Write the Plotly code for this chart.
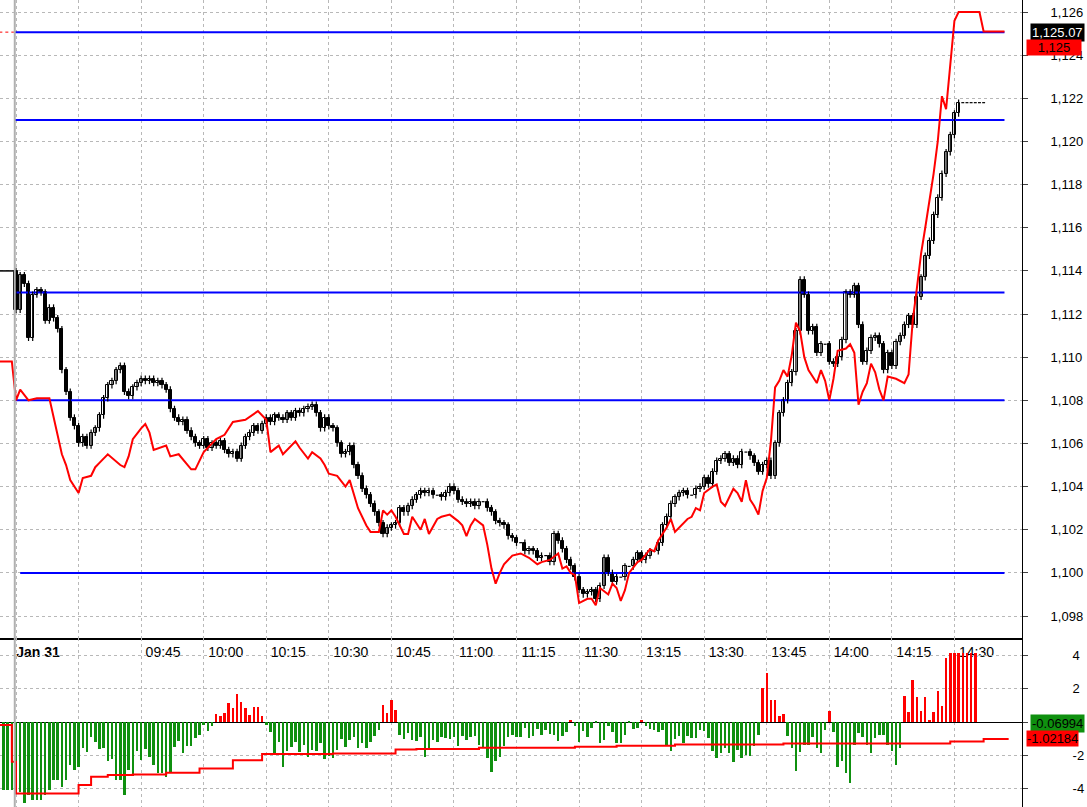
import plotly.graph_objects as go
from plotly.subplots import make_subplots

# 1-minute closes, Jan 31 session starting 09:15 (bar 0); previous day closed at 1114
prev_close = 1114.0
closes = [
    1112.2, 1113.8, 1113.4, 1110.9, 1112.9, 1113.1, 1113.0, 1111.7, 1112.3, 1111.8,
    1111.3, 1109.4, 1108.4, 1107.2, 1106.8, 1106.0, 1106.3, 1105.9, 1106.5, 1106.7,
    1107.3, 1108.1, 1108.7, 1108.9, 1109.4, 1109.6, 1108.4, 1108.2, 1108.6, 1108.8,
    1109.0, 1108.9, 1109.0, 1108.8, 1108.9, 1108.7, 1108.5, 1107.6, 1107.2, 1107.0,
    1107.1, 1106.6, 1106.3, 1106.0, 1105.9, 1106.2, 1105.8, 1106.0, 1105.9, 1106.1,
    1105.7, 1105.5, 1105.6, 1105.3, 1105.9, 1106.3, 1106.5, 1106.8, 1106.6, 1106.9,
    1107.2, 1107.0, 1107.3, 1107.2, 1107.1, 1107.4, 1107.2, 1107.5, 1107.4, 1107.6,
    1107.7, 1107.8, 1107.4, 1106.7, 1107.2, 1106.8, 1106.7, 1106.0, 1105.5, 1105.6,
    1105.9, 1105.0, 1104.5, 1103.9, 1103.6, 1103.2, 1102.8, 1102.3, 1101.8, 1102.1,
    1102.2, 1102.3, 1103.0, 1102.8, 1103.1, 1103.4, 1103.6, 1103.8, 1103.7, 1103.8,
    1103.6, 1103.6, 1103.5, 1103.7, 1104.0, 1103.8, 1103.4, 1103.3, 1103.2, 1103.3,
    1103.1, 1103.3, 1103.3, 1103.0, 1102.8, 1102.4, 1102.3, 1102.2, 1101.7, 1101.6,
    1101.4, 1101.4, 1101.0, 1101.1, 1101.0, 1100.7, 1100.8, 1100.8, 1100.5, 1101.8,
    1101.5, 1101.1, 1100.6, 1100.3, 1099.8, 1099.2, 1099.0, 1099.1, 1099.2, 1098.8,
    1099.4, 1100.7, 1100.0, 1099.6, 1099.8, 1099.8, 1100.3, 1100.3, 1100.6, 1100.9,
    1100.6, 1100.8, 1101.0, 1101.0, 1101.4, 1102.2, 1102.6, 1103.2, 1103.5, 1103.7,
    1103.8, 1103.6, 1103.6, 1103.9, 1104.0, 1104.4, 1104.1, 1104.7, 1105.2, 1105.3,
    1105.5, 1105.1, 1105.3, 1105.0, 1105.6, 1105.6, 1105.4, 1105.1, 1104.7, 1105.0,
    1105.2, 1104.5, 1106.0, 1107.4, 1108.0, 1108.8, 1109.3, 1111.2, 1113.6, 1112.9,
    1111.2, 1111.4, 1110.2, 1110.6, 1110.6, 1109.8, 1109.7, 1110.0, 1110.8, 1113.0,
    1112.9, 1113.3, 1111.5, 1109.8, 1110.3, 1110.9, 1111.0, 1110.6, 1109.4, 1110.2,
    1109.6, 1110.7, 1111.0, 1111.5, 1111.9, 1111.5, 1112.8, 1113.7, 1114.7, 1115.4,
    1116.6, 1117.4, 1118.5, 1119.5, 1120.3, 1121.3, 1121.8,
    1121.8, 1121.8, 1121.8, 1121.8, 1121.8, 1121.8,
]

# comparison line (red)
red_t = [-4, -1, 0, 1, 3, 5, 8, 9, 11, 12, 13, 15, 16, 18, 19, 20, 22, 25, 26, 27,
         28, 30, 31, 32, 33, 36, 37, 39, 42, 43, 45, 48, 50, 52, 55, 58, 60, 61, 63, 64,
         67, 68, 70, 71, 73, 74, 75, 77, 79, 80, 81, 82, 84, 85, 87, 88, 89, 90, 91, 93,
         94, 95, 97, 98, 99, 101, 102, 104, 106, 107, 108, 109, 110, 112, 113, 114, 115, 116, 117, 119,
         121, 123, 125, 126, 128, 130, 131, 132, 133, 134, 135, 137, 138, 139, 140, 142, 143, 144, 145, 146,
         147, 149, 150, 152, 153, 154, 156, 157, 158, 160, 161, 162, 163, 164, 165, 167, 168, 169, 170, 172,
         173, 174, 175, 176, 177, 178, 179, 180, 181, 182, 183, 184, 185, 186, 187, 188, 189, 190, 192, 193,
         194, 195, 196, 197, 199, 200, 201, 202, 203, 204, 205, 206, 207, 208, 209, 211, 213, 214, 215, 216,
         217, 218, 219, 220, 221, 222, 223, 224, 225, 226, 231, 232, 237]
red_v = [1109.8, 1109.8, 1108.0, 1108.5, 1108.0, 1108.1, 1108.1, 1107.2, 1105.5, 1105.0, 1104.3, 1103.7, 1104.4, 1104.5, 1104.9, 1105.1, 1105.5, 1105.0, 1104.9, 1105.4,
         1106.2, 1106.7, 1106.9, 1106.5, 1105.7, 1105.9, 1105.4, 1105.5, 1104.8, 1104.8, 1105.6, 1106.2, 1106.4, 1107.0, 1107.1, 1107.5, 1107.1, 1105.6, 1105.9, 1105.5,
         1106.1, 1105.8, 1105.3, 1105.6, 1105.3, 1105.0, 1104.6, 1104.5, 1104.0, 1104.3, 1103.7, 1103.0, 1102.2, 1101.9, 1101.9, 1102.9, 1102.7, 1102.9, 1102.6, 1101.8,
         1101.8, 1102.6, 1102.0, 1102.5, 1101.8, 1102.5, 1102.6, 1102.7, 1102.4, 1102.2, 1101.7, 1102.2, 1102.5, 1102.2, 1101.3, 1100.2, 1099.5, 1100.0, 1100.4, 1100.8,
         1100.9, 1100.7, 1100.4, 1100.5, 1100.6, 1100.9, 1100.2, 1100.3, 1100.0, 1099.9, 1098.6, 1098.8, 1098.8, 1098.5, 1099.3, 1099.0, 1099.5, 1099.3, 1098.7, 1099.2,
         1100.0, 1100.5, 1100.6, 1101.1, 1101.0, 1101.5, 1102.1, 1102.5, 1101.9, 1102.3, 1102.5, 1102.6, 1103.0, 1102.9, 1103.7, 1104.0, 1104.1, 1103.3, 1103.1, 1103.9,
         1103.7, 1103.3, 1104.3, 1103.4, 1103.1, 1102.7, 1103.8, 1104.4, 1106.1, 1108.6, 1108.9, 1109.4, 1109.1, 1110.1, 1111.6, 1111.2, 1110.0, 1109.4, 1108.8, 1109.4,
         1108.9, 1108.0, 1109.0, 1110.3, 1110.4, 1110.6, 1110.2, 1107.8, 1108.4, 1108.8, 1109.7, 1109.3, 1108.5, 1108.0, 1109.1, 1109.0, 1108.8, 1109.2, 1111.7, 1113.2,
         1114.8, 1116.0, 1117.2, 1118.5, 1120.0, 1122.1, 1121.5, 1123.4, 1125.6, 1126.0, 1126.0, 1125.1, 1125.1]

levels = [1100, 1108, 1113, 1121, 1125.07]

# lower panel histogram, starting at bar -3
hist_v = [
    -4.10, -4.10, -4.10, -4.10, -4.20, -4.86, -4.40, -4.70, -4.70, -4.70,
    -4.40, -4.10, -3.49, -3.49, -3.90, -3.49, -2.59, -2.89, -2.69, -1.59,
    -1.79, -0.88, -1.18, -1.65, -1.59, -2.33, -2.25, -3.49, -3.49, -4.40,
    -2.89, -3.23, -1.73, -2.29, -1.65, -2.09, -2.59, -3.09, -3.09, -3.33,
    -3.05, -1.53, -1.14, -1.85, -1.45, -1.45, -0.99, -0.78, -0.18, -0.52,
    -0.22, 0.48, 0.36, 0.52, 1.12, 0.82, 1.69, 1.23, 0.82, 0.42,
    0.88, 0.88, 0.36, -0.18, -0.58, -1.85, -1.18, -2.69, -1.73, -1.53,
    -1.18, -1.79, -1.39, -2.09, -1.69, -1.73, -1.29, -2.25, -2.05, -2.15,
    -1.69, -1.05, -1.49, -1.08, -0.88, -1.59, -1.29, -1.59, -1.18, -0.84,
    -0.48, 1.02, 0.52, 1.33, 0.72,
    -0.78, -1.03, -0.68, -1.08, -1.14, -0.92, -2.09, -1.59, -1.08, -1.18,
    -0.88, -0.99, -1.05, -0.92, -1.45, -0.84, -1.08, -0.88, -0.84, -1.39,
    -1.53, -2.19, -3.00, -2.33, -2.13, -1.45, -0.92, -0.78, -0.88, -0.92,
    -0.34, -0.99, -0.84, -0.44, -0.78, -0.46, -0.72, -0.78, -1.12, -0.84,
    -0.58, 0.10, -0.22, -1.18, -0.54, -0.88, -0.38, -0.06, -1.24, -1.08,
    -0.26, -0.62, -1.29, -1.29, -0.78, -0.06, -0.44, -0.38, 0.10, -0.26,
    -0.44, -0.46, -0.58, -0.46, -1.39, -1.73, -1.05, -0.84, -1.24, -0.84,
    -0.99, -0.99, -0.46, -0.52, -0.99, -1.73, -2.15, -1.89, -1.59, -1.89,
    -2.39, -1.69, -2.19, -1.99, -2.05, -1.45, -0.78,
    2.03, 2.93, 1.35, 1.35, 0.38, 0.48,
    -0.84, -1.59, -2.93, -1.79, -1.39, -1.39, -0.92, -1.59, -1.85, -0.46,
    0.68,
    -0.58, -2.69, -2.33, -3.09, -3.69, -1.39, -0.68, -0.88, -1.39, -1.85,
    -0.99, -0.78, -0.78, -1.39, -1.73, -2.59, -1.59,
    1.57, 0.62, 2.53, 1.53, 0.66, 1.53, 0.12, 0.62, 1.87, 0.96, 3.87,
    4.18, 4.18, 4.18, 4.18, 4.18, 4.18, 4.18,
]

ma_t = [-4, -1, 0, 8, 15, 18, 22, 28, 36, 44, 52, 59, 76, 91, 96, 111, 134, 144, 158, 182, 184, 218, 224, 232, 238]
ma_v = [-0.18, -2.4, -4.3, -4.3, -3.8, -3.3, -3.2, -3.16, -3.06, -2.8, -2.3, -1.93, -1.89, -1.65, -1.63,
        -1.55, -1.49, -1.43, -1.35, -1.35, -1.29, -1.29, -1.18, -1.02, -1.02]

tick_pos = [0, 15, 30, 45, 60, 75, 90, 105, 120, 135, 150, 165, 180, 195, 210, 225]
tick_txt = ["<b>Jan 31</b>", "", "09:45", "10:00", "10:15", "10:30", "10:45", "11:00",
            "11:15", "11:30", "13:15", "13:30", "13:45", "14:00", "14:15", "14:30"]

# build candles (open = previous close)
t = list(range(len(closes)))
o = [prev_close] + closes[:-1]
up_x, up_base, up_h, dn_x, dn_base, dn_h = [], [], [], [], [], []
wx, wy = [], []
for i, a, b in zip(t, o, closes):
    if a == b:
        wx += [i - 0.35, i + 0.35, None]
        wy += [b, b, None]
        continue
    lo, hi = min(a, b), max(a, b)
    wx += [i, i, None]
    wy += [lo - 0.15, hi + 0.15, None]
    if b > a:
        up_x.append(i); up_base.append(lo); up_h.append(hi - lo)
    else:
        dn_x.append(i); dn_base.append(lo); dn_h.append(hi - lo)

hist_t = list(range(-3, -3 + len(hist_v)))

fig = make_subplots(rows=2, cols=1, shared_xaxes=True, vertical_spacing=0)

for lv in levels:
    fig.add_trace(go.Scatter(x=[-0.3 if lv != 1100 else 1, 237], y=[lv, lv], mode="lines",
                             line=dict(color="#0000ff", width=2), hoverinfo="skip"), row=1, col=1)
fig.add_trace(go.Scatter(x=[-4, -0.5], y=[1125.07, 1125.07], mode="lines",
                         line=dict(color="red", width=1, dash="dot")), row=1, col=1)
fig.add_trace(go.Scatter(x=[-4, 0], y=[prev_close, prev_close], mode="lines",
                         line=dict(color="black", width=1.5)), row=1, col=1)
fig.add_trace(go.Scatter(x=wx, y=wy, mode="lines", line=dict(color="black", width=1.2)), row=1, col=1)
fig.add_trace(go.Bar(x=up_x, y=up_h, base=up_base, width=0.75,
                     marker=dict(color="white", line=dict(color="black", width=1))), row=1, col=1)
fig.add_trace(go.Bar(x=dn_x, y=dn_h, base=dn_base, width=0.75,
                     marker=dict(color="black", line=dict(color="black", width=1))), row=1, col=1)
fig.add_trace(go.Scatter(x=red_t, y=red_v, mode="lines", line=dict(color="#ff0000", width=2)),
              row=1, col=1)

fig.add_trace(go.Bar(x=hist_t, y=hist_v, width=0.6,
                     marker=dict(color=["#ff0000" if v > 0 else "#0f900f" for v in hist_v], line_width=0)),
              row=2, col=1)
fig.add_trace(go.Scatter(x=ma_t, y=ma_v, mode="lines", line=dict(color="#ff0000", width=2, shape="hv")),
              row=2, col=1)

grid = dict(showgrid=True, gridcolor="#b8b8b8", griddash="dot", gridwidth=1)
fig.update_xaxes(range=[-3.84, 241.2], tickvals=tick_pos, ticktext=tick_txt, **grid, zeroline=False)
fig.update_xaxes(row=1, col=1, showticklabels=True, showline=True, linecolor="black", linewidth=2,
                 ticks="", ticklabelshift=22, tickfont=dict(size=14, color="black"))
fig.update_xaxes(row=2, col=1, showticklabels=False)
fig.update_yaxes(row=1, col=1, domain=[0.2094, 1], range=[1096.98, 1126.56], side="right",
                 tickvals=list(range(1098, 1127, 2)), tickformat=",", ticks="outside", ticklen=5,
                 showline=True, linecolor="black", linewidth=1, zeroline=False, **grid,
                 ticklabelstandoff=20, tickfont=dict(size=13, color="black"))
fig.update_yaxes(row=2, col=1, domain=[0, 0.2094], range=[-5.12, 5.06], side="right",
                 tickvals=[-4, -2, 0, 2, 4], ticktext=["-4", "-2", "", "2", "4"], ticks="outside", ticklen=5,
                 showline=True, linecolor="black", linewidth=1, zeroline=True, zerolinecolor="black",
                 zerolinewidth=1, **grid, ticklabelstandoff=42, tickfont=dict(size=13, color="black"))

fig.add_shape(type="line", xref="x", yref="paper", x0=-0.3, x1=-0.3, y0=0, y1=1,
              line=dict(color="#b0b0b0", width=2))

fig.add_annotation(x=1, xref="paper", y=1125.07, yref="y", text="1,125.07", showarrow=False,
                   xanchor="left", xshift=8, bgcolor="black", font=dict(color="white", size=13), borderpad=1)
fig.add_annotation(x=1, xref="paper", y=1124.35, yref="y", text="1,125", showarrow=False,
                   xanchor="left", xshift=4, bgcolor="#ff0000", font=dict(color="black", size=13),
                   borderpad=0, width=54, align="center")
fig.add_annotation(x=1, xref="paper", y=-0.07, yref="y2", text="-0.06994", showarrow=False,
                   xanchor="left", xshift=8, bgcolor="#0f900f", font=dict(color="black", size=13), borderpad=1)
fig.add_annotation(x=1, xref="paper", y=-1.02, yref="y2", text="-1.02184", showarrow=False,
                   xanchor="left", xshift=4, bgcolor="#ff0000", font=dict(color="black", size=13), borderpad=0)

fig.update_layout(width=1087, height=807, margin=dict(l=0, r=65, t=0, b=0, autoexpand=False),
                  paper_bgcolor="white", plot_bgcolor="white", showlegend=False,
                  barmode="overlay", bargap=0, font=dict(family="Liberation Sans, Arial, sans-serif"))
fig.write_html("out.html", config={"displayModeBar": False},
               post_script="document.body.style.margin='0';")
